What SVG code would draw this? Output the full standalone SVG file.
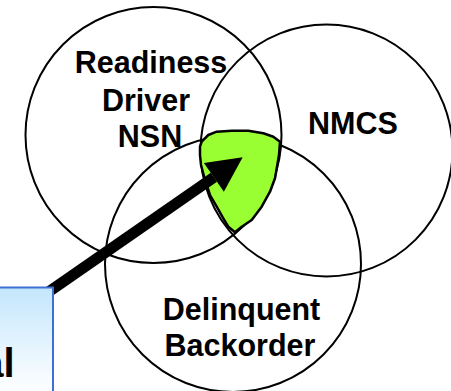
<svg xmlns="http://www.w3.org/2000/svg" width="451" height="391" viewBox="0 0 451 391">
  <style>
    .set { fill: none; stroke: #000; stroke-width: 2; }
    .lbl { font-family: "Liberation Sans", Arial, sans-serif; font-weight: bold; font-size: 30.5px; fill: #000; text-anchor: middle; }
    .blob { fill: #99ff33; stroke: #000; stroke-width: 2.5; stroke-linejoin: round; }
    .conn { stroke: #000; stroke-width: 11; fill: none; }
  </style>
  <defs>
    <linearGradient id="boxFill" x1="0" y1="0" x2="0" y2="1">
      <stop offset="0" stop-color="#c4e6fc"/>
      <stop offset="1" stop-color="#ffffff"/>
    </linearGradient>
    <marker id="head" markerUnits="userSpaceOnUse" markerWidth="40" markerHeight="40" refX="0" refY="17.5" orient="auto" overflow="visible">
      <path d="M0,0 L35,17.5 L0,35 Z" fill="#000"/>
    </marker>
  </defs>
  <rect width="451" height="391" fill="#fff"/>

  <g id="readiness">
    <circle class="set" cx="153.5" cy="135" r="128"/>
  </g>
  <g id="nmcs">
    <circle class="set" cx="326.5" cy="150.5" r="126"/>
  </g>
  <g id="delinquent">
    <circle class="set" cx="233" cy="264" r="128"/>
  </g>
  <g id="intersection">
    <path class="blob" d="M200,146.7 L201.7,141.7 L208.3,135 L216.7,131.7 L231.7,130.7 L248.3,130.7 L263.3,133.3 L273.3,136.7 L280,141.7 L279,155 L275,178.3 L270,191.7 L261.7,206.7 L251.7,220 L241.7,226.7 L235,232.3 L228.3,226.7 L223.3,218.3 L216.7,206.7 L210,195 L205,180 L201,165 L200,155 Z"/>
  </g>

  <g id="labels">
    <text class="lbl" x="151" y="72.5">Readiness</text>
    <text class="lbl" x="146" y="110.5">Driver</text>
    <text class="lbl" x="150" y="147">NSN</text>
    <text class="lbl" x="353" y="134">NMCS</text>
    <text class="lbl" x="241.5" y="319.5">Delinquent</text>
    <text class="lbl" x="240" y="355.5">Backorder</text>
  </g>

  <g id="connectors">
    <line class="conn" x1="29" y1="305.5" x2="213.9" y2="177.3" marker-end="url(#head)"/>
  </g>

  <g id="callout">
    <rect x="-2" y="287.5" width="55" height="106" fill="url(#boxFill)" stroke="#3d6fd4" stroke-width="2"/>
    <text x="14.5" y="377" font-family="'Liberation Sans', Arial, sans-serif" font-weight="bold" font-size="40" text-anchor="end" fill="#000">al</text>
  </g>
</svg>
